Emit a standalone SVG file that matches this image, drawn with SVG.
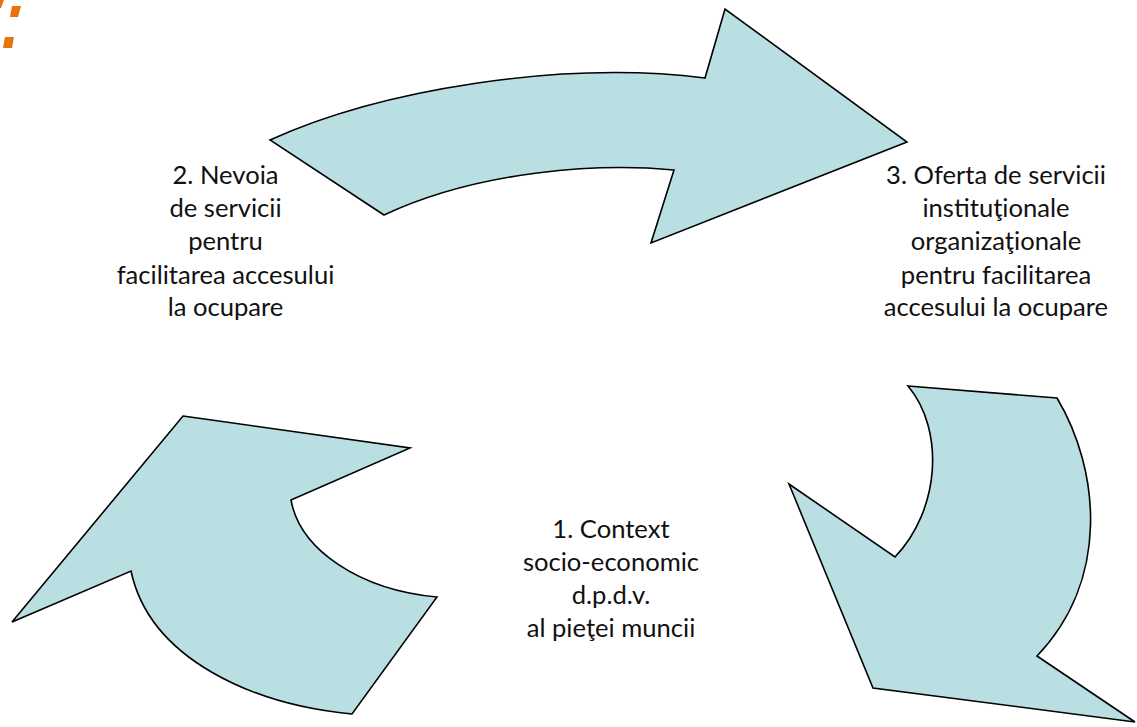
<svg xmlns="http://www.w3.org/2000/svg" width="1137" height="727" viewBox="0 0 1137 727">
<style>
.arrow{fill:#B9DFE3;stroke:#000;stroke-width:1.6;stroke-linejoin:miter}
.mark{fill:#E8730C}
.lbl{font-family:Lato,"Open Sans","Liberation Sans",sans-serif;font-size:25.6px;fill:#111;text-anchor:middle}
</style>
<rect width="1137" height="727" fill="#fff"/>
<g id="marks">
<polygon class="mark" points="0,0 4,0 1,8 0,8"/>
<polygon class="mark" points="12,6 21,6 18,17 10,17"/>
<polygon class="mark" points="5,37 14,37 12,48 3,48"/>
</g>
<g id="connectors">
<path id="arrow-top" class="arrow" d="M270,140 C380,90 560,60 705,78 L725,9 L907,142 L651,243 L674,170 C600,163 480,170 384,215 Z"/>
<path id="arrow-right" class="arrow" d="M908,386 L1057,398 C1100,470 1110,580 1037,656 L1135,722 L873,688 L789,484 L895,557 C940,510 945,430 908,386 Z"/>
<path id="arrow-left" class="arrow" d="M183,416 L410,448 L291,500 C300,550 360,590 437,597 L352,714 C255,705 150,660 131,571 L12,622 Z"/>
</g>
<g id="node-2">
<text class="lbl" x="225.5" y="184">2. Nevoia</text>
<text class="lbl" x="225.5" y="217">de servicii</text>
<text class="lbl" x="225.5" y="250">pentru</text>
<text class="lbl" x="225.5" y="284">facilitarea accesului</text>
<text class="lbl" x="225.5" y="316">la ocupare</text>
</g>
<g id="node-3">
<text class="lbl" x="996" y="184">3. Oferta de servicii</text>
<text class="lbl" x="996" y="217">instituţionale</text>
<text class="lbl" x="996" y="250">organizaţionale</text>
<text class="lbl" x="996" y="284">pentru facilitarea</text>
<text class="lbl" x="996" y="316">accesului la ocupare</text>
</g>
<g id="node-1">
<text class="lbl" x="611" y="538">1. Context</text>
<text class="lbl" x="611" y="571">socio-economic</text>
<text class="lbl" x="611" y="604">d.p.d.v.</text>
<text class="lbl" x="611" y="637">al pieţei muncii</text>
</g>
</svg>
